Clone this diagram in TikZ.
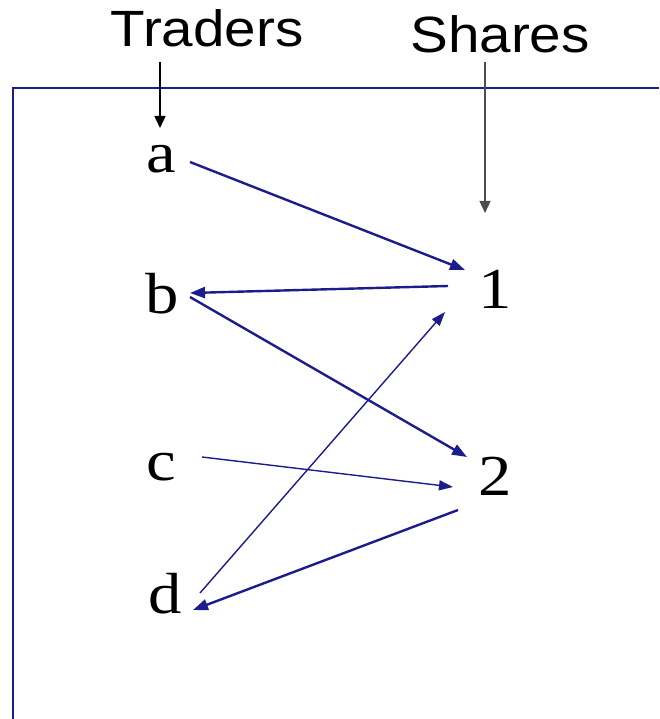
\documentclass[tikz,border=0pt]{standalone}
\usepackage{fontspec}
\setmainfont[FakeStretch=1.15]{Liberation Serif}
\newfontfamily\labfont[FakeStretch=1.11]{Liberation Sans}
\usetikzlibrary{arrows.meta}
\definecolor{navy}{RGB}{28,28,140}
\tikzset{
  letter/.style={anchor=base, inner sep=0pt, font=\fontsize{58}{58}\selectfont},
  head/.style={anchor=base, inner sep=0pt, font=\labfont\fontsize{51}{51}\selectfont},
  thick link/.style={draw=navy, line width=2.4pt, -{Triangle[length=15pt,width=11pt]}},
  thin link/.style={draw=navy, line width=1.4pt, -{Triangle[length=14pt,width=10pt]}},
  pointer/.style={draw=black, line width=1.6pt, -{Triangle[length=12pt,width=11pt]}},
  graypointer/.style={draw=black!70, line width=1.1pt, -{Triangle[length=12pt,width=11pt]}},
  frame/.style={draw=navy, line width=1.6pt}
}
\begin{document}
\begin{tikzpicture}[x=1pt,y=1pt]
\useasboundingbox (0,0) rectangle (659,-719);
\draw[frame] (659,-88) -- (13,-88) -- (13,-722);
\node[head] (T) at (207,-47) {Traders};
\node[head] (S) at (500,-53) {Shares};
\coordinate (Tend) at (160,-128);
\coordinate (Send) at (485,-213);
\draw[pointer] ([shift={(-47,-15)}]T.base) -- (Tend);
\draw[graypointer] ([shift={(-15,-9)}]S.base) -- (Send);
\node[letter] (a) at (161,-173) {a};
\node[letter] (b) at (162,-313) {b};
\node[letter] (c) at (161,-480) {c};
\node[letter] (d) at (165,-613) {d};
\node[letter] (s1) at (495,-308) {1};
\node[letter] (s2) at (495,-495) {2};
\draw[thick link] ([shift={(29,11)}]a.base) -- ([shift={(-30,38)}]s1.base);
\draw[thick link] ([shift={(-47,22)}]s1.base) -- ([shift={(28,20)}]b.base);
\draw[thick link] ([shift={(28,16)}]b.base) -- ([shift={(-28,38)}]s2.base);
\draw[thin link] ([shift={(41,23)}]c.base) -- ([shift={(-42,8)}]s2.base);
\draw[thin link] ([shift={(35,20)}]d.base) -- ([shift={(-50,-4)}]s1.base);
\draw[thick link] ([shift={(-37,-15)}]s2.base) -- ([shift={(28,3)}]d.base);
\end{tikzpicture}
\end{document}
